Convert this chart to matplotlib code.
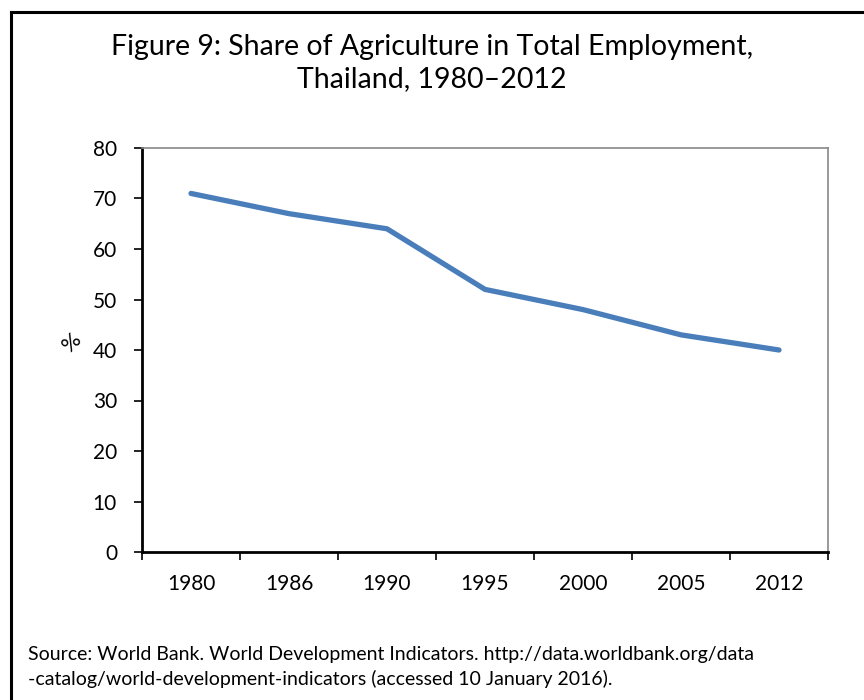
import matplotlib
matplotlib.use("Agg")
import matplotlib.pyplot as plt
from matplotlib.lines import Line2D

years = ["1980", "1986", "1990", "1995", "2000", "2005", "2012"]
share = [71, 67, 64, 52, 48, 43, 40]
yticks = [0, 10, 20, 30, 40, 50, 60, 70, 80]

plt.rcParams['font.family'] = ['Lato', 'DejaVu Sans']

fig = plt.figure(figsize=(8.64, 7.0), dpi=100)
W, H = 864, 700
ax = fig.add_axes([142 / W, 1 - 552 / H, (828 - 142) / W, (552 - 148) / H])

x = list(range(len(years)))
ax.plot(x, share, color="#4A7EBB", linewidth=3.8, solid_capstyle="round", solid_joinstyle="round")

ax.set_xlim(-0.5, len(years) - 0.5)
ax.set_ylim(0, 80)
ax.set_yticks(yticks)
ax.set_yticklabels([str(v) for v in yticks], fontsize=15)
ax.set_xticks(x)
ax.set_xticklabels(years, fontsize=15)
ax.set_xticks([i - 0.5 for i in range(len(years) + 1)], minor=True)
ax.tick_params(axis="x", which="major", length=0, pad=16)
ax.tick_params(axis="x", which="minor", length=6, width=1.2, direction="out", color="black")
ax.tick_params(axis="y", length=6, width=1.2, direction="out", pad=12)

for s in ["left", "bottom"]:
    ax.spines[s].set_color("black")
    ax.spines[s].set_linewidth(2)
for s in ["top", "right"]:
    ax.spines[s].set_color("#888888")
    ax.spines[s].set_linewidth(1.2)

ax.set_ylabel("%", fontsize=16, rotation=45, labelpad=10)

fig.text(0.5, 1 - 63 / H, "Figure 9: Share of Agriculture in Total Employment,\nThailand, 1980–2012",
         ha="center", va="center", fontsize=20.5, linespacing=1.3)

fig.text(28 / W, 1 - 667 / H,
         "Source: World Bank. World Development Indicators. http://data.worldbank.org/data\n"
         "-catalog/world-development-indicators (accessed 10 January 2016).",
         ha="left", va="center", fontsize=14, linespacing=1.45)

# outer frame (top and left edges)
fig.add_artist(Line2D([11 / W, 1.0], [1 - 12 / H, 1 - 12 / H], transform=fig.transFigure, color="black", linewidth=2.2))
fig.add_artist(Line2D([11 / W, 11 / W], [0.0, 1 - 12 / H], transform=fig.transFigure, color="black", linewidth=2.2))

fig.savefig("out.png", dpi=100)
